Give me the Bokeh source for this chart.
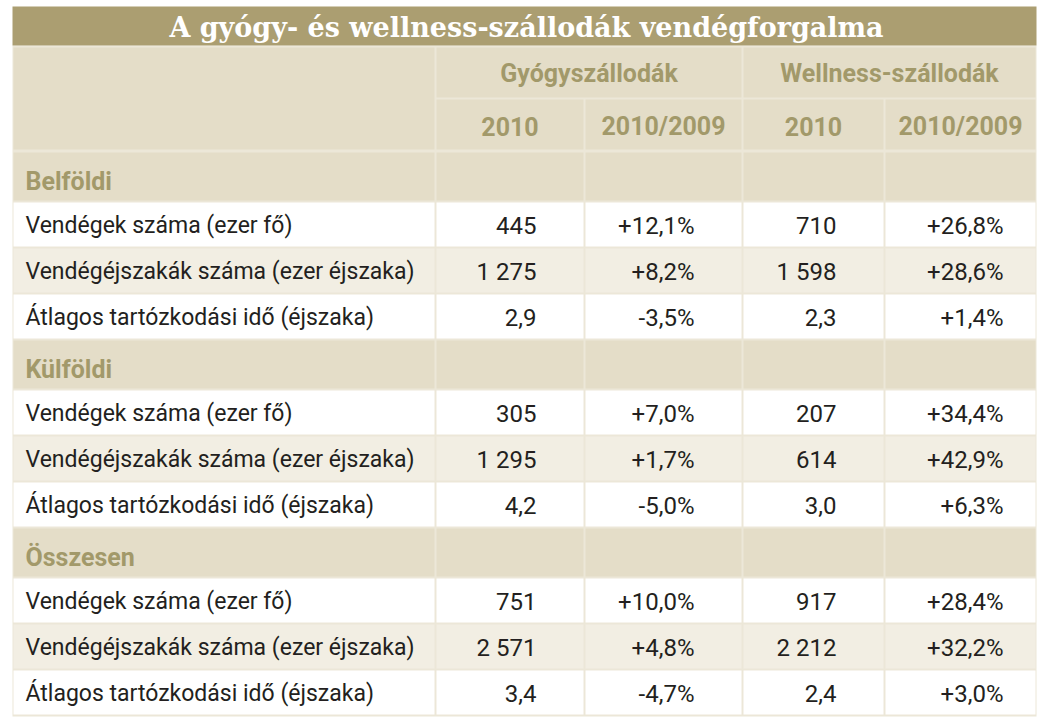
from bokeh.plotting import figure
from bokeh.models import Range1d, ColumnDataSource
from bokeh.core.properties import value
from bokeh.embed import file_html
from bokeh.resources import INLINE

# ---------------- data ----------------
title_text = "A gyógy- és wellness-szállodák vendégforgalma"
groups = ["Gyógyszállodák", "Wellness-szállodák"]
subheads = ["2010", "2010/2009", "2010", "2010/2009"]
sections = ["Belföldi", "Külföldi", "Összesen"]
metrics = ["Vendégek száma (ezer fő)",
           "Vendégéjszakák száma (ezer éjszaka)",
           "Átlagos tartózkodási idő (éjszaka)"]
gyogy_2010 = ["445", "1 275", "2,9", "305", "1 295", "4,2", "751", "2 571", "3,4"]
gyogy_change = ["+12,1%", "+8,2%", "-3,5%", "+7,0%", "+1,7%", "-5,0%", "+10,0%", "+4,8%", "-4,7%"]
well_2010 = ["710", "1 598", "2,3", "207", "614", "3,0", "917", "2 212", "2,4"]
well_change = ["+26,8%", "+28,6%", "+1,4%", "+34,4%", "+42,9%", "+6,3%", "+28,4%", "+32,2%", "+3,0%"]

# ---------------- layout ----------------
TITLE_BG = "#ab9e71"
HEAD_BG = "#e4ddc8"
ALT_BG = "#f2eee3"
GAP_BG = "#ece7d8"
HEAD_TXT = "#a2996a"
BODY_TXT = "#231f20"
SANS = "Roboto"

col_edges = [12, 435, 584, 742, 884, 1036]
num_right = [536, 694, 836, 1003]
TOP, TITLE_BOTTOM, HEAD_MID, HEAD_BOTTOM = 6, 45, 98, 150
SEC_H, ROW_H = 50, 46

p = figure(width=1040, height=720, x_range=Range1d(0, 1040), y_range=Range1d(720, 0),
           output_backend="svg", toolbar_location=None, min_border=0,
           x_axis_location=None, y_axis_location=None)
p.grid.visible = False
p.outline_line_color = None
p.background_fill_color = "white"
p.border_fill_color = "white"

# row structure
rows = []
y = HEAD_BOTTOM + 1
k = 0
for s in sections:
    rows.append(("sec", s, None, y, y + SEC_H, None))
    y += SEC_H
    for j, m in enumerate(metrics):
        rows.append(("data", m, k, y, y + ROW_H, j))
        y += ROW_H
        k += 1
BOTTOM = y

# background (gap colour) and title bar
p.quad(left=[col_edges[0]], right=[col_edges[-1]], top=[TITLE_BOTTOM], bottom=[BOTTOM + 1],
       fill_color=GAP_BG, line_color=None)
p.quad(left=[col_edges[0]], right=[col_edges[-1]], top=[TOP], bottom=[TITLE_BOTTOM],
       fill_color=TITLE_BG, line_color=None)

# cells
cl, cr, ct, cb, cf = [], [], [], [], []
def cell(l, r, t, b, c):
    cl.append(l + 1); cr.append(r - 1); ct.append(t + 1); cb.append(b - 1); cf.append(c)

cell(col_edges[0], col_edges[1], TITLE_BOTTOM + 1, HEAD_BOTTOM, HEAD_BG)
cell(col_edges[1], col_edges[3], TITLE_BOTTOM + 1, HEAD_MID, HEAD_BG)
cell(col_edges[3], col_edges[5], TITLE_BOTTOM + 1, HEAD_MID, HEAD_BG)
for i in range(4):
    cell(col_edges[i + 1], col_edges[i + 2], HEAD_MID, HEAD_BOTTOM, HEAD_BG)
for r in rows:
    if r[0] == "sec":
        c = HEAD_BG
    else:
        c = ALT_BG if r[5] == 1 else "white"
    for i in range(5):
        cell(col_edges[i], col_edges[i + 1], r[3], r[4], c)
p.quad(source=ColumnDataSource(dict(l=cl, r=cr, t=ct, b=cb, c=cf)),
       left="l", right="r", top="t", bottom="b", fill_color="c", line_color=None)

# title text
p.text(x=[(col_edges[0] + col_edges[-1]) / 2 + 2], y=[(TOP + TITLE_BOTTOM) / 2 + 1], text=[title_text],
       text_font=value("DejaVu Serif"), text_font_style="bold", text_font_size="27px",
       text_color="white", text_align="center", text_baseline="middle")

# header texts
gx = [(col_edges[1] + col_edges[3]) / 2, (col_edges[3] + col_edges[5]) / 2]
p.text(x=gx, y=[(TITLE_BOTTOM + HEAD_MID) / 2 + 1] * 2, text=groups,
       text_font=value(SANS), text_font_style="bold", text_font_size="25px",
       text_color=HEAD_TXT, text_align="center", text_baseline="middle")
sx = [(col_edges[i + 1] + col_edges[i + 2]) / 2 for i in range(4)]
p.text(x=sx, y=[(HEAD_MID + HEAD_BOTTOM) / 2 + 2] * 4, text=subheads,
       text_font=value(SANS), text_font_style="bold", text_font_size="25px",
       text_color=HEAD_TXT, text_align="center", text_baseline="middle")

# section labels
sec_rows = [r for r in rows if r[0] == "sec"]
p.text(x=[25] * len(sec_rows), y=[(r[3] + r[4]) / 2 + 5 for r in sec_rows], text=[r[1] for r in sec_rows],
       text_font=value(SANS), text_font_style="bold", text_font_size="25px",
       text_color=HEAD_TXT, text_align="left", text_baseline="middle")

# data rows
data_rows = [r for r in rows if r[0] == "data"]
ys = [(r[3] + r[4]) / 2 + 1 for r in data_rows]
p.text(x=[25] * len(data_rows), y=ys, text=[r[1] for r in data_rows],
       text_font=value(SANS), text_font_size="23px",
       text_color=BODY_TXT, text_align="left", text_baseline="middle")
for ci, col in enumerate([gyogy_2010, gyogy_change, well_2010, well_change]):
    p.text(x=[num_right[ci]] * len(col), y=ys, text=col,
           text_font=value(SANS), text_font_size="24px",
           text_color=BODY_TXT, text_align="right", text_baseline="middle")

open("out.html", "w").write(file_html(p, INLINE))
